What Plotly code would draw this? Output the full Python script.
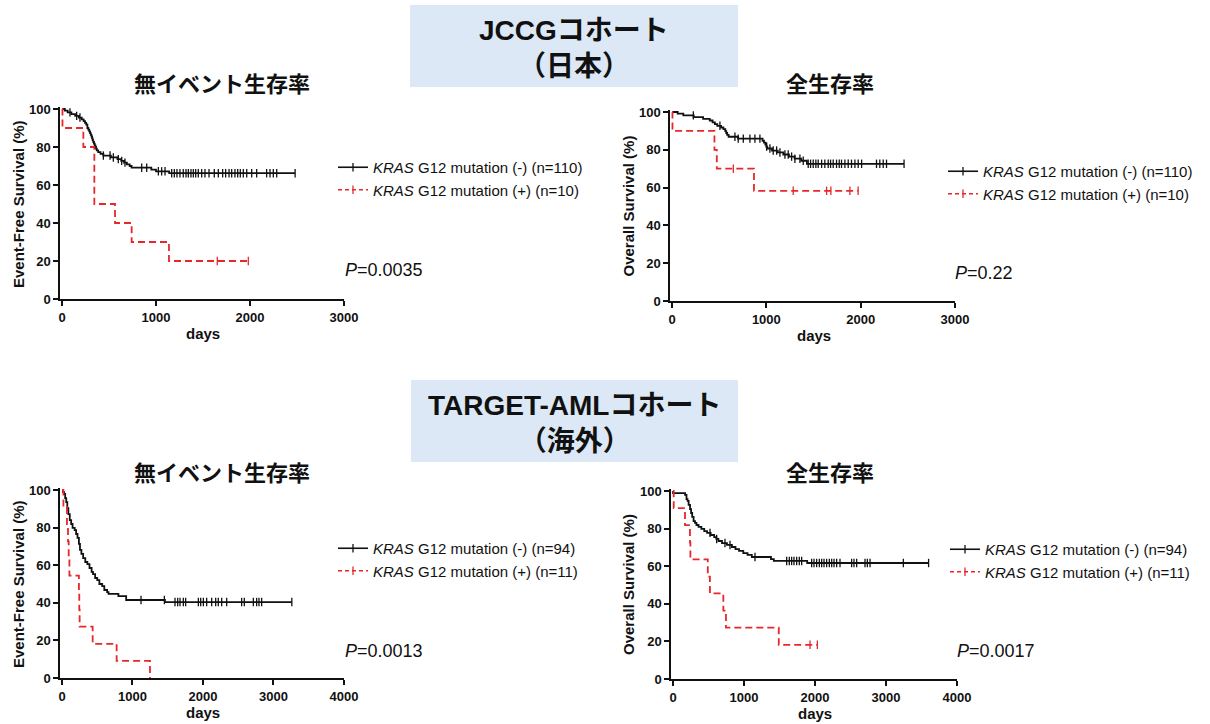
import plotly.graph_objects as go

W, H = 1210, 724
FONT = "Liberation Sans, Arial, Noto Sans CJK JP"
JFONT = "Noto Sans CJK JP, Liberation Sans"

# ---------------- data (days, survival %) ----------------
# JCCG cohort - event-free survival
jp_efs_neg_t = [0, 30, 60, 100, 140, 180, 210, 230, 245, 258, 270, 280, 290, 298, 306, 314, 320, 326, 332, 340,
                348, 356, 362, 370, 385, 410, 440, 520, 590, 630, 660, 690, 720, 740, 950, 1000, 1140, 2480]
jp_efs_neg_s = [100, 99.1, 98.2, 97.3, 96.4, 95.5, 94.5, 93.6, 92.7, 91.8, 90.0, 89.1, 88.2, 87.3, 86.4, 85.5, 84.5,
                83.6, 82.7, 81.8, 80.9, 80.0, 79.1, 78.2, 77.3, 76.4, 75.5, 74.5, 73.6, 72.7, 71.8, 70.9, 70.0, 69.1,
                68.1, 67.2, 66.2, 66.2]
jp_efs_neg_cens = [85, 156, 191, 440, 511, 546, 599, 635, 670, 848, 901, 1025, 1060, 1096, 1167, 1195, 1223, 1255,
                   1290, 1319, 1344, 1372, 1397, 1422, 1450, 1486, 1521, 1564, 1620, 1663, 1709, 1741, 1777, 1805,
                   1840, 1869, 1897, 1929, 1965, 2018, 2071, 2177, 2213, 2248, 2284, 2480]
jp_efs_pos_t = [0, 5, 227, 344, 564, 741, 1138, 1982]
jp_efs_pos_s = [100, 90, 80, 50, 40, 30, 20, 20]
jp_efs_pos_cens = [1652, 1982]

# JCCG cohort - overall survival
jp_os_neg_t = [0, 60, 120, 230, 330, 400, 430, 455, 480, 520, 545, 565, 575, 585, 600, 700, 960, 975, 990, 1000,
               1010, 1060, 1120, 1180, 1240, 1300, 1370, 1430, 2460]
jp_os_neg_s = [100, 99.1, 98.2, 97.3, 96.4, 95.5, 94.5, 93.6, 92.7, 91.8, 90.9, 89.9, 88.9, 87.9, 86.9, 85.9, 84.8,
               83.8, 82.8, 81.7, 80.7, 79.6, 78.6, 77.5, 76.4, 75.3, 74.2, 72.6, 72.6]
jp_os_neg_cens = [226, 508, 667, 702, 756, 826, 879, 932, 1003, 1038, 1073, 1109, 1144, 1197, 1232, 1268, 1303,
                  1356, 1391, 1444, 1469, 1497, 1525, 1550, 1586, 1620, 1656, 1681, 1709, 1744, 1773, 1797, 1833,
                  1868, 1903, 1939, 1974, 2010, 2168, 2203, 2239, 2274, 2460]
jp_os_pos_t = [0, 5, 450, 475, 869, 1973]
jp_os_pos_s = [100, 90, 80, 70, 58.3, 58.3]
jp_os_pos_cens = [650, 1285, 1639, 1684, 1886, 1973]

# TARGET-AML cohort - event-free survival
tg_efs_neg_t = [0, 15, 30, 45, 60, 75, 90, 110, 130, 150, 180, 200, 220, 240, 255, 275, 300, 330, 360, 390, 420,
                440, 470, 500, 530, 570, 600, 640, 660, 800, 910, 1460, 3260]
tg_efs_neg_s = [100, 98.9, 97.9, 95.7, 93.6, 90.4, 87.2, 84.0, 81.9, 79.8, 78.7, 76.6, 74.5, 71.3, 68.1, 66.0, 63.8,
                61.7, 60.6, 58.5, 56.4, 55.3, 53.2, 52.1, 50.0, 48.9, 46.8, 45.7, 44.7, 43.6, 41.5, 40.4, 40.4]
tg_efs_neg_cens = [1121, 1452, 1603, 1641, 1674, 1721, 1754, 1934, 1967, 2005, 2052, 2123, 2180, 2217, 2265, 2336,
                   2548, 2586, 2714, 2761, 2794, 2832, 3260]
tg_efs_pos_t = [0, 20, 70, 85, 95, 105, 240, 245, 250, 435, 775, 1248]
tg_efs_pos_s = [100, 90.9, 81.8, 72.7, 63.6, 54.5, 45.5, 36.4, 27.3, 18.2, 9.1, 0]
tg_efs_pos_cens = []

# TARGET-AML cohort - overall survival
tg_os_neg_t = [0, 1, 170, 190, 205, 220, 240, 255, 270, 290, 310, 330, 360, 400, 440, 480, 530, 580, 610, 640, 690,
               760, 830, 880, 930, 990, 1050, 1110, 1380, 1420, 1890, 3600]
tg_os_neg_s = [100, 98.9, 97.9, 95.7, 94.7, 92.6, 90.4, 88.3, 86.2, 84.0, 83.0, 81.9, 80.9, 79.8, 78.7, 77.7, 76.6,
               75.5, 74.5, 73.4, 72.3, 71.3, 70.2, 69.1, 68.1, 67.0, 66.0, 64.9, 63.8, 62.8, 61.7, 61.7]
tg_os_neg_cens = [521, 615, 732, 803, 1155, 1601, 1638, 1671, 1704, 1742, 1779, 1812, 1953, 1986, 2023, 2061, 2094,
                  2127, 2164, 2202, 2235, 2268, 2305, 2352, 2516, 2549, 2587, 2704, 2737, 2775, 3244, 3600]
tg_os_pos_t = [0, 10, 169, 239, 245, 490, 520, 709, 746, 1490, 2033]
tg_os_pos_s = [100, 90.9, 81.8, 72.7, 63.6, 54.5, 45.5, 36.4, 27.3, 18.2, 18.2]
tg_os_pos_cens = [1930, 2033]

legend_jp = ["<i>KRAS</i> G12 mutation (-) (n=110)", "<i>KRAS</i> G12 mutation (+) (n=10)"]
legend_tg = ["<i>KRAS</i> G12 mutation (-) (n=94)", "<i>KRAS</i> G12 mutation (+) (n=11)"]
p_values = ["0.0035", "0.22", "0.0013", "0.0017"]
panel_titles = ["無イベント生存率", "全生存率", "無イベント生存率", "全生存率"]
ytitles = ["Event-Free Survival (%)", "Overall Survival (%)", "Event-Free Survival (%)", "Overall Survival (%)"]
cohort_titles = [("JCCGコホート", "（日本）"), ("TARGET-AMLコホート", "（海外）")]
y_ticks = [0, 20, 40, 60, 80, 100]
x_ticks_jp = [0, 1000, 2000, 3000]
x_ticks_tg = [0, 1000, 2000, 3000, 4000]


def level_at(ts, ss, t):
    v = ss[0]
    for ti, si in zip(ts, ss):
        if ti <= t:
            v = si
    return v


def px(x):
    return x / W


def py(y):
    return 1 - y / H


panels = [
    dict(x0=62, x1=344, y0=299, y100=109, xmax=3000, ticks=x_ticks_jp,
         neg=(jp_efs_neg_t, jp_efs_neg_s, jp_efs_neg_cens), pos=(jp_efs_pos_t, jp_efs_pos_s, jp_efs_pos_cens),
         leg=legend_jp, legpos=(333, 151), ppos=(343, 270), tx=222, ty=82, ytx=18),
    dict(x0=672, x1=955, y0=301, y100=112, xmax=3000, ticks=x_ticks_jp,
         neg=(jp_os_neg_t, jp_os_neg_s, jp_os_neg_cens), pos=(jp_os_pos_t, jp_os_pos_s, jp_os_pos_cens),
         leg=legend_jp, legpos=(943, 155), ppos=(953, 273), tx=830, ty=82, ytx=628),
    dict(x0=62, x1=344, y0=678, y100=490, xmax=4000, ticks=x_ticks_tg,
         neg=(tg_efs_neg_t, tg_efs_neg_s, tg_efs_neg_cens), pos=(tg_efs_pos_t, tg_efs_pos_s, tg_efs_pos_cens),
         leg=legend_tg, legpos=(333, 532), ppos=(343, 651), tx=222, ty=471, ytx=18),
    dict(x0=673, x1=957, y0=679, y100=491, xmax=4000, ticks=x_ticks_tg,
         neg=(tg_os_neg_t, tg_os_neg_s, tg_os_neg_cens), pos=(tg_os_pos_t, tg_os_pos_s, tg_os_pos_cens),
         leg=legend_tg, legpos=(945, 533), ppos=(955, 651), tx=830, ty=471, ytx=628),
]

fig = go.Figure()
annotations = []
shapes = []
layout_axes = {}

BLACK = "#111111"
RED = "#e8272a"

for i, p in enumerate(panels):
    k = i + 1
    xa = "x" if k == 1 else f"x{k}"
    ya = "y" if k == 1 else f"y{k}"
    lg = "legend" if k == 1 else f"legend{k}"
    xpad = p["xmax"] * 0.006
    ytop = 101.2
    left_px = p["x0"] - (p["x1"] - p["x0"]) * xpad / p["xmax"]
    top_px = p["y0"] - (p["y0"] - p["y100"]) * ytop / 100
    xd = [px(left_px), px(p["x1"])]
    yd = [py(p["y0"]), py(top_px)]
    axis_common = dict(showgrid=False, zeroline=False, showline=True, linecolor=BLACK, linewidth=2,
                       ticks="outside", ticklen=5, tickwidth=2, tickcolor=BLACK, automargin=False,
                       tickfont=dict(family=FONT, size=13, color=BLACK, weight="bold"))
    layout_axes["xaxis" if k == 1 else f"xaxis{k}"] = dict(
        domain=xd, range=[-xpad, p["xmax"]], tickvals=p["ticks"], anchor=ya, **axis_common)
    layout_axes["yaxis" if k == 1 else f"yaxis{k}"] = dict(
        domain=yd, range=[0, ytop], tickvals=y_ticks, anchor=xa, **axis_common)

    for (ts, ss, cens), color, dash, name in [
        (p["neg"], BLACK, "solid", p["leg"][0]),
        (p["pos"], RED, "7px,4px", p["leg"][1]),
    ]:
        fig.add_trace(go.Scatter(x=ts, y=ss, mode="lines", line=dict(color=color, width=1.8, dash=dash, shape="hv"),
                                 xaxis=xa, yaxis=ya, showlegend=False, hoverinfo="skip"))
        if cens:
            fig.add_trace(go.Scatter(x=cens, y=[level_at(ts, ss, c) for c in cens], mode="markers",
                                     marker=dict(symbol="line-ns", size=6, line=dict(color=color, width=1.3)),
                                     xaxis=xa, yaxis=ya, showlegend=False, hoverinfo="skip", cliponaxis=False))
        fig.add_trace(go.Scatter(x=[None], y=[None], mode="lines+markers", name=name, legend=lg,
                                 line=dict(color=color, width=1.6, dash="solid" if dash == "solid" else "4px,3px"),
                                 marker=dict(symbol="line-ns", size=6, line=dict(color=color, width=1.3)),
                                 xaxis=xa, yaxis=ya))

    lx, ly = p["legpos"]
    layout_axes[lg] = dict(x=px(lx), y=py(ly), xanchor="left", yanchor="top", bgcolor="rgba(0,0,0,0)",
                           font=dict(family=FONT, size=15, color=BLACK), tracegroupgap=0, itemwidth=30,
                           traceorder="normal")

    ppx, ppy = p["ppos"]
    annotations.append(dict(x=px(ppx), y=py(ppy), xref="paper", yref="paper", xanchor="left", yanchor="middle",
                            text=f"<i>P</i>={p_values[i]}", showarrow=False,
                            font=dict(family=FONT, size=18, color=BLACK)))
    annotations.append(dict(x=px(p["tx"]), y=py(p["ty"]), xref="paper", yref="paper",
                            xanchor="center", yanchor="middle", text=f"<b>{panel_titles[i]}</b>", showarrow=False,
                            font=dict(family=JFONT, size=22, color=BLACK)))
    annotations.append(dict(x=px(p["ytx"]), y=py((p["y0"] + p["y100"]) / 2), xref="paper", yref="paper",
                            xanchor="center", yanchor="middle", textangle=-90,
                            text=f"<b>{ytitles[i]}</b>", showarrow=False,
                            font=dict(family=FONT, size=15, color=BLACK)))
    annotations.append(dict(x=px((p["x0"] + p["x1"]) / 2), y=py(p["y0"] + 34), xref="paper", yref="paper",
                            xanchor="center", yanchor="middle", text="<b>days</b>", showarrow=False,
                            font=dict(family=FONT, size=15, color=BLACK)))

for (bx0, by0, bx1, by1), (line1, line2) in zip([(410, 5, 738, 87), (411, 380, 738, 462)], cohort_titles):
    shapes.append(dict(type="rect", xref="paper", yref="paper", x0=px(bx0), x1=px(bx1), y0=py(by1),
                       y1=py(by0), fillcolor="#dce8f5", line=dict(width=0), layer="below"))
    annotations.append(dict(x=px((bx0 + bx1) / 2), y=py((by0 + by1) / 2 + 2), xref="paper", yref="paper",
                            xanchor="center", yanchor="middle", text=f"<b>{line1}<br>{line2}</b>",
                            showarrow=False, align="center",
                            font=dict(family="Liberation Sans, Noto Sans CJK JP", size=28, color=BLACK)))

fig.update_layout(width=W, height=H, margin=dict(l=0, r=0, t=0, b=0, autoexpand=False), paper_bgcolor="white",
                  plot_bgcolor="white", annotations=annotations, shapes=shapes, **layout_axes)
fig.write_html("out.html", config={"displayModeBar": False},
               post_script="document.body.style.margin='0';document.documentElement.style.overflow='hidden';")
